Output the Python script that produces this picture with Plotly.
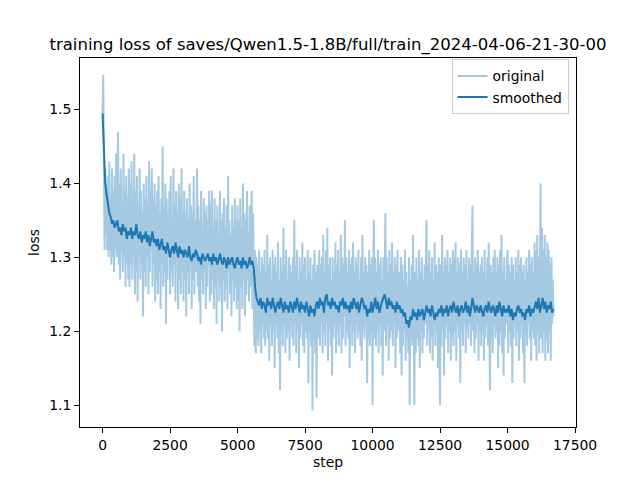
import plotly.graph_objects as go

# ---- data ----
log_interval = 25
original = [
    # 0 - 975
    1.495, 1.547, 1.44, 1.31, 1.42, 1.33, 1.40, 1.31, 1.41, 1.30,
    1.43, 1.31, 1.38, 1.29, 1.42, 1.30, 1.39, 1.28, 1.41, 1.31,
    1.44, 1.30, 1.38, 1.47, 1.29, 1.40, 1.27, 1.42, 1.31, 1.37,
    1.28, 1.44, 1.30, 1.39, 1.26, 1.41, 1.29, 1.38, 1.27, 1.42,
    # 1000 - 1975
    1.26, 1.40, 1.29, 1.43, 1.27, 1.38, 1.30, 1.44, 1.25, 1.39,
    1.28, 1.41, 1.24, 1.37, 1.30, 1.42, 1.27, 1.39, 1.29, 1.36,
    1.22, 1.40, 1.28, 1.38, 1.26, 1.41, 1.30, 1.37, 1.25, 1.43,
    1.28, 1.39, 1.31, 1.42, 1.26, 1.38, 1.29, 1.40, 1.24, 1.37,
    # 2000 - 2975
    1.27, 1.39, 1.25, 1.41, 1.28, 1.36, 1.23, 1.38, 1.29, 1.45,
    1.26, 1.37, 1.28, 1.40, 1.21, 1.38, 1.27, 1.36, 1.30, 1.39,
    1.25, 1.41, 1.28, 1.35, 1.26, 1.42, 1.29, 1.37, 1.24, 1.39,
    1.30, 1.36, 1.23, 1.40, 1.27, 1.38, 1.25, 1.42, 1.28, 1.36,
    # 3000 - 3975
    1.24, 1.39, 1.27, 1.36, 1.22, 1.38, 1.28, 1.35, 1.25, 1.40,
    1.29, 1.37, 1.23, 1.36, 1.27, 1.41, 1.25, 1.35, 1.28, 1.38,
    1.42, 1.26, 1.37, 1.24, 1.35, 1.21, 1.39, 1.27, 1.34, 1.25,
    1.38, 1.28, 1.36, 1.23, 1.37, 1.26, 1.35, 1.29, 1.39, 1.24,
    # 4000 - 4975
    1.37, 1.25, 1.39, 1.27, 1.34, 1.23, 1.38, 1.26, 1.35, 1.21,
    1.37, 1.28, 1.33, 1.24, 1.39, 1.26, 1.35, 1.20, 1.36, 1.27,
    1.38, 1.24, 1.34, 1.26, 1.37, 1.23, 1.41, 1.28, 1.35, 1.25,
    1.33, 1.22, 1.37, 1.27, 1.34, 1.24, 1.38, 1.26, 1.35, 1.23,
    # 5000 - 5975
    1.37, 1.24, 1.35, 1.20, 1.38, 1.26, 1.34, 1.23, 1.40, 1.27,
    1.36, 1.22, 1.35, 1.25, 1.39, 1.27, 1.33, 1.24, 1.37, 1.26,
    1.35, 1.39, 1.23, 1.36, 1.25, 1.18, 1.31, 1.17, 1.30, 1.19,
    1.29, 1.18, 1.31, 1.20, 1.28, 1.17, 1.30, 1.21, 1.29, 1.19,
    # 6000 - 6975
    1.31, 1.18, 1.28, 1.20, 1.33, 1.19, 1.29, 1.16, 1.30, 1.21,
    1.27, 1.18, 1.31, 1.20, 1.29, 1.15, 1.30, 1.21, 1.28, 1.19,
    1.32, 1.17, 1.27, 1.12, 1.30, 1.20, 1.28, 1.18, 1.34, 1.21,
    1.29, 1.17, 1.31, 1.19, 1.27, 1.20, 1.30, 1.16, 1.29, 1.21,
    # 7000 - 7975
    1.28, 1.19, 1.30, 1.18, 1.35, 1.21, 1.29, 1.17, 1.31, 1.20,
    1.27, 1.15, 1.30, 1.19, 1.28, 1.21, 1.32, 1.18, 1.29, 1.17,
    1.30, 1.20, 1.27, 1.19, 1.31, 1.13, 1.28, 1.20, 1.30, 1.18,
    1.27, 1.093, 1.29, 1.19, 1.31, 1.17, 1.28, 1.11, 1.29, 1.20,
    # 8000 - 8975
    1.19, 1.31, 1.18, 1.29, 1.21, 1.30, 1.17, 1.33, 1.20, 1.28,
    1.18, 1.31, 1.21, 1.34, 1.16, 1.29, 1.20, 1.30, 1.18, 1.27,
    1.14, 1.30, 1.19, 1.28, 1.21, 1.32, 1.17, 1.29, 1.20, 1.31,
    1.18, 1.28, 1.21, 1.33, 1.17, 1.30, 1.19, 1.29, 1.22, 1.35,
    # 9000 - 9975
    1.18, 1.30, 1.20, 1.28, 1.19, 1.31, 1.15, 1.29, 1.21, 1.30,
    1.18, 1.32, 1.20, 1.28, 1.17, 1.30, 1.21, 1.29, 1.19, 1.31,
    1.20, 1.27, 1.18, 1.30, 1.16, 1.33, 1.20, 1.28, 1.19, 1.30,
    1.21, 1.29, 1.13, 1.28, 1.19, 1.31, 1.18, 1.29, 1.20, 1.30,
    # 10000 - 10975
    1.10, 1.29, 1.35, 1.19, 1.30, 1.18, 1.28, 1.20, 1.31, 1.17,
    1.29, 1.21, 1.30, 1.18, 1.27, 1.14, 1.30, 1.20, 1.29, 1.36,
    1.18, 1.30, 1.21, 1.28, 1.16, 1.31, 1.19, 1.29, 1.20, 1.32,
    1.18, 1.28, 1.21, 1.30, 1.15, 1.29, 1.19, 1.31, 1.20, 1.28,
    # 11000 - 11975
    1.27, 1.17, 1.30, 1.14, 1.29, 1.18, 1.27, 1.20, 1.31, 1.16,
    1.28, 1.19, 1.26, 1.17, 1.30, 1.10, 1.27, 1.19, 1.29, 1.18,
    1.33, 1.20, 1.10, 1.28, 1.17, 1.30, 1.19, 1.27, 1.18, 1.31,
    1.15, 1.28, 1.20, 1.30, 1.17, 1.27, 1.19, 1.29, 1.21, 1.30,
    # 12000 - 12975
    1.35, 1.18, 1.29, 1.20, 1.31, 1.17, 1.28, 1.19, 1.30, 1.16,
    1.27, 1.21, 1.32, 1.18, 1.29, 1.20, 1.28, 1.15, 1.30, 1.19,
    1.10, 1.29, 1.18, 1.33, 1.20, 1.28, 1.14, 1.30, 1.19, 1.29,
    1.21, 1.31, 1.17, 1.28, 1.20, 1.30, 1.16, 1.29, 1.19, 1.31,
    # 13000 - 13975
    1.18, 1.30, 1.20, 1.32, 1.16, 1.28, 1.21, 1.30, 1.19, 1.29,
    1.13, 1.31, 1.20, 1.28, 1.18, 1.30, 1.21, 1.29, 1.17, 1.31,
    1.20, 1.27, 1.19, 1.30, 1.21, 1.29, 1.18, 1.31, 1.37, 1.20,
    1.28, 1.17, 1.30, 1.19, 1.29, 1.21, 1.31, 1.16, 1.28, 1.20,
    # 14000 - 14975
    1.29, 1.18, 1.30, 1.20, 1.28, 1.16, 1.31, 1.19, 1.27, 1.21,
    1.30, 1.18, 1.32, 1.20, 1.12, 1.29, 1.19, 1.28, 1.17, 1.30,
    1.21, 1.31, 1.19, 1.28, 1.20, 1.30, 1.15, 1.29, 1.18, 1.31,
    1.20, 1.33, 1.17, 1.28, 1.14, 1.30, 1.19, 1.27, 1.21, 1.29,
    # 15000 - 15975
    1.31, 1.17, 1.29, 1.20, 1.28, 1.18, 1.30, 1.13, 1.29, 1.19,
    1.27, 1.21, 1.30, 1.18, 1.28, 1.20, 1.31, 1.16, 1.29, 1.19,
    1.30, 1.21, 1.28, 1.17, 1.29, 1.13, 1.27, 1.20, 1.30, 1.18,
    1.28, 1.21, 1.31, 1.19, 1.29, 1.16, 1.30, 1.20, 1.28, 1.19,
    # 16000 - 16700
    1.32, 1.18, 1.31, 1.16, 1.33, 1.20, 1.30, 1.17, 1.32, 1.40,
    1.19, 1.34, 1.17, 1.31, 1.20, 1.33, 1.16, 1.30, 1.19, 1.32,
    1.17, 1.31, 1.20, 1.29, 1.16, 1.30, 1.21, 1.27, 1.22,
]
steps_original = [i * log_interval for i in range(len(original))]

smooth_interval = 50
smoothed = [
    1.495, 1.44, 1.40, 1.385, 1.37, 1.36, 1.355, 1.345, 1.35, 1.34, 1.345, 1.35, 1.335, 1.34, 1.33, 1.345, 1.335, 1.34, 1.325, 1.335,
    1.33, 1.34, 1.325, 1.335, 1.33, 1.345, 1.33, 1.325, 1.335, 1.32, 1.33, 1.325, 1.335, 1.32, 1.33, 1.315, 1.325, 1.335, 1.32, 1.325,
    1.315, 1.325, 1.31, 1.32, 1.325, 1.31, 1.315, 1.305, 1.32, 1.31, 1.30, 1.31, 1.315, 1.305, 1.32, 1.31, 1.30, 1.315, 1.305, 1.31,
    1.30, 1.31, 1.305, 1.30, 1.315, 1.30, 1.295, 1.305, 1.30, 1.31, 1.305, 1.295, 1.30, 1.29, 1.305, 1.30, 1.295, 1.30, 1.305, 1.295,
    1.30, 1.29, 1.305, 1.295, 1.30, 1.29, 1.30, 1.305, 1.295, 1.29, 1.30, 1.295, 1.285, 1.30, 1.29, 1.295, 1.30, 1.29, 1.285, 1.295,
    1.30, 1.29, 1.295, 1.285, 1.30, 1.29, 1.295, 1.285, 1.29, 1.30, 1.29, 1.295, 1.285, 1.26, 1.245, 1.24, 1.235, 1.245, 1.23, 1.24,
    1.235, 1.225, 1.245, 1.235, 1.24, 1.23, 1.245, 1.235, 1.225, 1.235, 1.24, 1.23, 1.245, 1.235, 1.225, 1.24, 1.23, 1.235, 1.225, 1.24,
    1.235, 1.225, 1.24, 1.23, 1.245, 1.235, 1.225, 1.24, 1.23, 1.235, 1.225, 1.24, 1.23, 1.22, 1.235, 1.225, 1.23, 1.22, 1.235, 1.24,
    1.23, 1.245, 1.235, 1.24, 1.225, 1.245, 1.25, 1.235, 1.24, 1.23, 1.245, 1.235, 1.24, 1.23, 1.235, 1.225, 1.24, 1.235, 1.245, 1.23,
    1.24, 1.23, 1.235, 1.225, 1.24, 1.23, 1.245, 1.235, 1.23, 1.24, 1.225, 1.235, 1.245, 1.24, 1.23, 1.235, 1.22, 1.23, 1.225, 1.24,
    1.225, 1.235, 1.245, 1.23, 1.24, 1.225, 1.235, 1.24, 1.245, 1.25, 1.24, 1.23, 1.245, 1.235, 1.24, 1.23, 1.235, 1.225, 1.24, 1.23,
    1.235, 1.225, 1.23, 1.22, 1.225, 1.21, 1.215, 1.205, 1.22, 1.215, 1.23, 1.22, 1.225, 1.215, 1.23, 1.22, 1.225, 1.23, 1.215, 1.225,
    1.235, 1.225, 1.23, 1.22, 1.235, 1.225, 1.215, 1.225, 1.22, 1.23, 1.225, 1.235, 1.22, 1.23, 1.225, 1.235, 1.22, 1.23, 1.235, 1.225,
    1.24, 1.23, 1.225, 1.235, 1.22, 1.23, 1.235, 1.225, 1.23, 1.24, 1.225, 1.235, 1.22, 1.23, 1.245, 1.235, 1.225, 1.235, 1.23, 1.225,
    1.235, 1.225, 1.22, 1.23, 1.235, 1.225, 1.24, 1.23, 1.225, 1.235, 1.23, 1.22, 1.235, 1.225, 1.24, 1.23, 1.22, 1.235, 1.225, 1.23,
    1.225, 1.235, 1.22, 1.23, 1.215, 1.225, 1.22, 1.23, 1.235, 1.225, 1.23, 1.22, 1.225, 1.215, 1.23, 1.225, 1.235, 1.22, 1.23, 1.225,
    1.235, 1.24, 1.23, 1.245, 1.225, 1.235, 1.245, 1.23, 1.24, 1.225, 1.235, 1.23, 1.24, 1.225, 1.23,
]
steps_smoothed = [i * smooth_interval for i in range(len(smoothed))]

x_ticks = [0, 2500, 5000, 7500, 10000, 12500, 15000, 17500]
x_tick_labels = ["0", "2500", "5000", "7500", "10000", "12500", "15000", "17500"]
y_ticks = [1.1, 1.2, 1.3, 1.4, 1.5]
y_tick_labels = ["1.1", "1.2", "1.3", "1.4", "1.5"]

title = "training loss of saves/Qwen1.5-1.8B/full/train_2024-04-06-21-30-00"

# ---- axis ranges (matplotlib-like 5% margins) ----
xmax_data = steps_original[-1]
xpad = 0.05 * xmax_data
all_y = original + smoothed
ymin_d, ymax_d = min(all_y), max(all_y)
ypad = 0.05 * (ymax_d - ymin_d)

FONT = "DejaVu Sans"
fig = go.Figure()
fig.add_trace(go.Scatter(
    x=steps_original, y=original, mode="lines", name="original",
    line=dict(color="rgba(31,119,180,0.4)", width=2),
))
fig.add_trace(go.Scatter(
    x=steps_smoothed, y=smoothed, mode="lines", name="smoothed",
    line=dict(color="#1f77b4", width=2),
))

# page body has an 8px default margin -> figure is 632x472 placed at (8, 8)
fig.update_layout(
    width=632, height=472,
    margin=dict(l=72, r=64, t=50, b=53, autoexpand=False),
    paper_bgcolor="white", plot_bgcolor="white",
    font=dict(family=FONT, size=14, color="black"),
    title=dict(text=title, x=0.5, xref="paper", xanchor="center",
               y=1, yref="paper", yanchor="bottom", pad=dict(b=8),
               automargin=False,
               font=dict(family=FONT, size=16.5, color="black")),
    showlegend=True,
    legend=dict(x=0.985, y=0.996, xanchor="right", yanchor="top",
                bgcolor="rgba(255,255,255,0.8)", bordercolor="#cccccc", borderwidth=1,
                font=dict(family=FONT, size=13.9, color="black"),
                tracegroupgap=0, itemwidth=30),
)
fig.update_xaxes(
    automargin=False,
    range=[-xpad, xmax_data + xpad], tickmode="array",
    tickvals=x_ticks, ticktext=x_tick_labels,
    showgrid=False, zeroline=False, showline=True, mirror=True,
    linecolor="black", linewidth=1, ticks="outside", ticklen=5, tickwidth=1,
    tickcolor="black", tickfont=dict(family=FONT, size=13.9),
    title=dict(text="step", font=dict(family=FONT, size=13.9), standoff=5),
)
fig.update_yaxes(
    automargin=False,
    range=[ymin_d - ypad, ymax_d + ypad], tickmode="array",
    tickvals=y_ticks, ticktext=y_tick_labels,
    showgrid=False, zeroline=False, showline=True, mirror=True,
    linecolor="black", linewidth=1, ticks="outside", ticklen=5, tickwidth=1,
    tickcolor="black", tickfont=dict(family=FONT, size=13.9),
    title=dict(text="loss", font=dict(family=FONT, size=13.9), standoff=6),
)

fig.write_html("out.html")
